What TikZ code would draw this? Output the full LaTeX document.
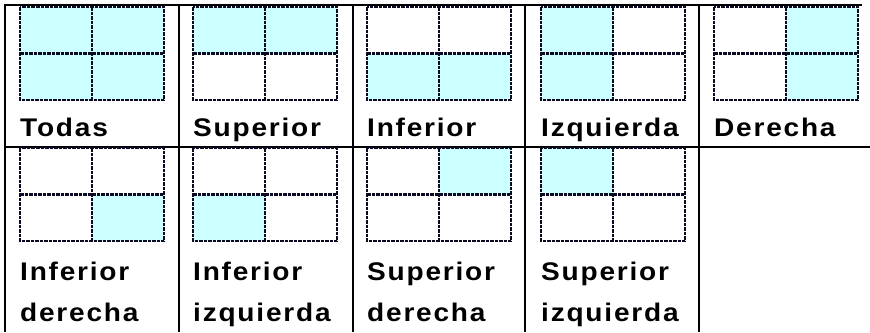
\documentclass[tikz,border=0pt]{standalone}
\usepackage{fontspec}
\newfontfamily\cellfont[FakeStretch=1.1,LetterSpace=7]{Liberation Sans Bold}
\usepackage{tikz}
\definecolor{PanelCyan}{HTML}{CCFFFF}
\definecolor{PanelDash}{HTML}{0A0A22}

\begin{document}
\begin{tikzpicture}[x=1pt,y=-1pt]
  \tikzstyle{quad}=[draw=PanelDash,line width=2.2pt,dash pattern=on 3.5pt off 1pt]
  \tikzstyle{rule}=[draw=black,line width=2pt]
  \tikzstyle{label}=[anchor=base west,inner sep=0pt,
    font=\cellfont\fontsize{25.5}{28}\selectfont]
  \useasboundingbox (0,0) rectangle (870,332);
  % table rules
  \draw[rule] (5,5) -- (862,5);
  \draw[rule] (5,147) -- (870,147);
  \foreach \vx in {5,179,353,525,699}
    \draw[rule] (\vx,4) -- (\vx,332);
  % quadrant panels
  \foreach \px/\py/\tl/\tr/\bl/\br in {
      20/7/PanelCyan/PanelCyan/PanelCyan/PanelCyan,
      193/7/PanelCyan/PanelCyan/white/white,
      367/7/white/white/PanelCyan/PanelCyan,
      541/7/PanelCyan/white/PanelCyan/white,
      714/7/white/PanelCyan/white/PanelCyan,
      20/148/white/white/white/PanelCyan,
      193/148/white/white/PanelCyan/white,
      367/148/white/PanelCyan/white/white,
      541/148/PanelCyan/white/white/white}
  {
    \fill[fill=\tl] (\px,\py) rectangle +(72,46.5);
    \fill[fill=\tr] (\px+72,\py) rectangle +(72,46.5);
    \fill[fill=\bl] (\px,\py+46.5) rectangle +(72,46.5);
    \fill[fill=\br] (\px+72,\py+46.5) rectangle +(72,46.5);
    \draw[quad] (\px,\py) rectangle +(144,93);
    \draw[quad] (\px+72,\py) -- +(0,93);
    \draw[quad] (\px,\py+46.5) -- +(144,0);
  }
  % captions
  \node[label] (todas) at (20,136) {Todas};
  \node[label] (sup) at (193,136) {Superior};
  \node[label] (inf) at (367,136) {Inferior};
  \node[label] (izq) at (541,136) {Izquierda};
  \node[label] (der) at (714,136) {Derecha};
  \node[label] (infder) at (20,280) {Inferior};
  \node[label] (infder2) at (20,321) {derecha};
  \node[label] (infizq) at (193,280) {Inferior};
  \node[label] (infizq2) at (193,321) {izquierda};
  \node[label] (supder) at (367,280) {Superior};
  \node[label] (supder2) at (367,321) {derecha};
  \node[label] (supizq) at (541,280) {Superior};
  \node[label] (supizq2) at (541,321) {izquierda};
\end{tikzpicture}
\end{document}
